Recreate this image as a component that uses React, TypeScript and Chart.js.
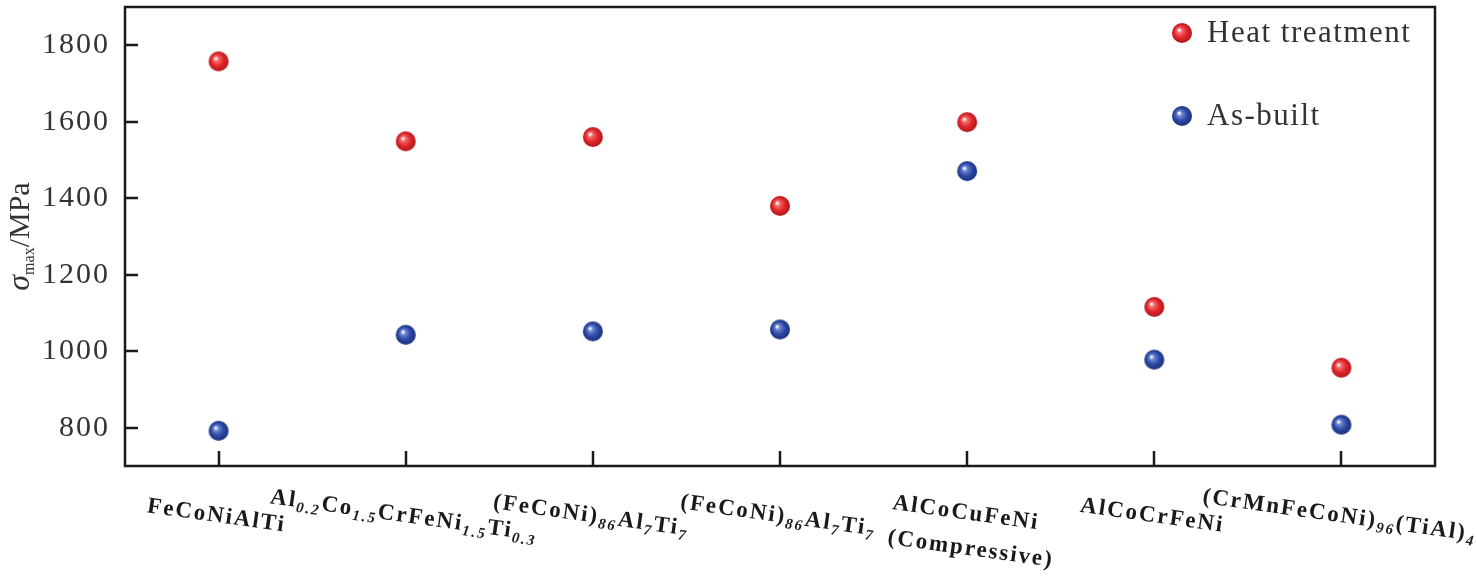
import React, { useEffect, useRef } from 'react';
import { Chart, registerables } from 'chart.js';

Chart.register(...registerables);

// alloys on the x axis (plain names + markup with _{subscripts})
const categories = [
    'FeCoNiAlTi',
    'Al0.2Co1.5CrFeNi1.5Ti0.3',
    '(FeCoNi)86Al7Ti7 a',
    '(FeCoNi)86Al7Ti7 b',
    'AlCoCuFeNi (Compressive)',
    'AlCoCrFeNi',
    '(CrMnFeCoNi)96(TiAl)4',
];
const categoryMarkup = [
    'FeCoNiAlTi',
    'Al_{0.2}Co_{1.5}CrFeNi_{1.5}Ti_{0.3}',
    '(FeCoNi)_{86}Al_{7}Ti_{7}',
    '(FeCoNi)_{86}Al_{7}Ti_{7}',
    'AlCoCuFeNi\n(Compressive)',
    'AlCoCrFeNi',
    '(CrMnFeCoNi)_{96}(TiAl)_{4}',
];

const heatTreatment = [1758, 1549, 1560, 1380, 1599, 1116, 957];
const asBuilt = [792, 1043, 1052, 1057, 1471, 978, 808];

const yTickValues = [800, 1000, 1200, 1400, 1600, 1800];
const Y_MIN = 700;
const Y_MAX = 1900;

const SERIF = '"Liberation Serif", "Times New Roman", serif';
const LABEL_ANGLE = (8 * Math.PI) / 180;
const AXIS_COLOR = '#1a1a1a';

function makeSphere(light: string, base: string, dark: string) {
    const c = document.createElement('canvas');
    c.width = 22;
    c.height = 22;
    const g = c.getContext('2d')!;
    const grad = g.createRadialGradient(8, 8, 0.5, 11, 11, 11);
    grad.addColorStop(0, '#ffffff');
    grad.addColorStop(0.2, light);
    grad.addColorStop(0.55, base);
    grad.addColorStop(1, dark);
    g.fillStyle = grad;
    g.beginPath();
    g.arc(11, 11, 10, 0, Math.PI * 2);
    g.fill();
    return c;
}

function parseMarkup(s: string) {
    const segs: { t: string; sub: boolean }[] = [];
    const re = /_\{([^}]*)\}/g;
    let last = 0;
    let m: RegExpExecArray | null;
    while ((m = re.exec(s))) {
        if (m.index > last) segs.push({ t: s.slice(last, m.index), sub: false });
        segs.push({ t: m[1], sub: true });
        last = re.lastIndex;
    }
    if (last < s.length) segs.push({ t: s.slice(last), sub: false });
    return segs;
}

const MAIN_FONT = `bold 23px ${SERIF}`;
const SUB_FONT = `italic bold 15px ${SERIF}`;

function drawCategoryLabel(ctx: CanvasRenderingContext2D, text: string, cx: number, cy: number) {
    const lines = text.split('\n').map(parseMarkup);
    ctx.save();
    ctx.translate(cx, cy);
    ctx.rotate(LABEL_ANGLE);
    ctx.letterSpacing = '2px';
    ctx.fillStyle = '#1a1a1a';
    ctx.textBaseline = 'middle';
    ctx.textAlign = 'left';
    const widths = lines.map((segs) =>
        segs.reduce((w, s) => {
            ctx.font = s.sub ? SUB_FONT : MAIN_FONT;
            return w + ctx.measureText(s.t).width;
        }, 0)
    );
    const blockW = Math.max(...widths);
    const gap = 35;
    const y0 = (-(lines.length - 1) * gap) / 2;
    lines.forEach((segs, i) => {
        let x = lines.length > 1 ? -blockW / 2 : -widths[i] / 2;
        const y = y0 + i * gap;
        segs.forEach((s) => {
            ctx.font = s.sub ? SUB_FONT : MAIN_FONT;
            ctx.fillText(s.t, x, s.sub ? y + 7 : y);
            x += ctx.measureText(s.t).width;
        });
    });
    ctx.restore();
}

export default function App() {
    const chartRef = useRef<HTMLCanvasElement>(null);
    const chartInstance = useRef<Chart | null>(null);

    useEffect(() => {
        if (!chartRef.current) return;
        if (chartInstance.current) chartInstance.current.destroy();

        const redBall = makeSphere('#f26a6a', '#e3262b', '#a3141a');
        const blueBall = makeSphere('#6a84d0', '#2d4aa6', '#182a72');

        const decor = {
            id: 'decor',
            beforeDraw(chart: any) {
                const { ctx, width, height } = chart;
                ctx.save();
                ctx.fillStyle = '#fff';
                ctx.fillRect(0, 0, width, height);
                ctx.restore();
                ctx.letterSpacing = '2px';
            },
            afterDraw(chart: any) {
                const { ctx, chartArea } = chart;
                const { left, top, right, bottom } = chartArea;
                const xs = chart.scales.x;
                const ys = chart.scales.y;
                ctx.letterSpacing = '0px';

                // frame + inward ticks
                ctx.save();
                ctx.strokeStyle = AXIS_COLOR;
                ctx.lineWidth = 2.5;
                ctx.strokeRect(left, top, right - left, bottom - top);
                ctx.beginPath();
                yTickValues.forEach((v) => {
                    const y = Math.round(ys.getPixelForValue(v));
                    ctx.moveTo(left, y);
                    ctx.lineTo(left + 13, y);
                });
                categories.forEach((_, i) => {
                    const x = Math.round(xs.getPixelForValue(i));
                    ctx.moveTo(x, bottom);
                    ctx.lineTo(x, bottom - 15);
                });
                ctx.stroke();
                ctx.restore();

                // category labels
                categoryMarkup.forEach((txt, i) => {
                    const cx = xs.getPixelForValue(i);
                    const multi = txt.includes('\n');
                    drawCategoryLabel(ctx, txt, cx + (multi ? 6 : -2), multi ? 532 : 516);
                });

                // y title
                ctx.save();
                ctx.fillStyle = '#333';
                ctx.textBaseline = 'alphabetic';
                ctx.textAlign = 'left';
                const parts = [
                    { t: 'σ', f: `italic 32px ${SERIF}`, dy: 0 },
                    { t: 'max', f: `16px ${SERIF}`, dy: 5 },
                    { t: '/MPa', f: `30px ${SERIF}`, dy: 0 },
                ];
                const total = parts.reduce((w, p) => {
                    ctx.font = p.f;
                    return w + ctx.measureText(p.t).width;
                }, 0);
                ctx.translate(29, (top + bottom) / 2 + total / 2);
                ctx.rotate(-Math.PI / 2);
                let px = 0;
                parts.forEach((p) => {
                    ctx.font = p.f;
                    ctx.fillText(p.t, px, p.dy);
                    px += ctx.measureText(p.t).width;
                });
                ctx.restore();

                // legend
                ctx.save();
                ctx.letterSpacing = '1.5px';
                ctx.font = `31px ${SERIF}`;
                ctx.fillStyle = '#333';
                ctx.textBaseline = 'middle';
                ctx.textAlign = 'left';
                const legendItems = [
                    { img: redBall, label: 'Heat treatment', y: 33 },
                    { img: blueBall, label: 'As-built', y: 116 },
                ];
                legendItems.forEach((it) => {
                    ctx.drawImage(it.img, 1182 - 11, it.y - 11);
                    ctx.fillText(it.label, 1207, it.y + 1);
                });
                ctx.restore();
            },
        };

        chartInstance.current = new Chart(chartRef.current, {
            type: 'line',
            data: {
                labels: categories,
                datasets: [
                    {
                        label: 'Heat treatment',
                        data: heatTreatment,
                        showLine: false,
                        pointStyle: redBall,
                        pointRadius: 10,
                        pointHoverRadius: 10,
                    },
                    {
                        label: 'As-built',
                        data: asBuilt,
                        showLine: false,
                        pointStyle: blueBall,
                        pointRadius: 10,
                        pointHoverRadius: 10,
                    },
                ],
            },
            options: {
                animation: false,
                responsive: true,
                maintainAspectRatio: false,
                layout: { autoPadding: false, padding: { left: 0, top: 7, right: 42, bottom: 0 } },
                plugins: {
                    legend: { display: false },
                    tooltip: { enabled: false },
                },
                scales: {
                    x: {
                        type: 'category',
                        offset: true,
                        grid: { display: false, drawTicks: false },
                        border: { display: false },
                        ticks: { display: false },
                        afterFit: (s: any) => {
                            s.height = 115;
                            s.paddingLeft = 0;
                            s.paddingRight = 0;
                        },
                    },
                    y: {
                        type: 'linear',
                        min: Y_MIN,
                        max: Y_MAX,
                        afterBuildTicks: (s: any) => { s.ticks = yTickValues.map((v) => ({ value: v })); },
                        grid: { display: false, drawTicks: false },
                        border: { display: false },
                        ticks: {
                            font: { family: SERIF, size: 30 },
                            color: '#333',
                            padding: 15,
                            callback: (v: any) => String(v),
                        },
                        afterFit: (s: any) => {
                            s.width = 125;
                            s.paddingTop = 0;
                            s.paddingBottom = 0;
                        },
                    },
                },
            } as any,
            plugins: [decor],
        });

        return () => {
            if (chartInstance.current) {
                chartInstance.current.destroy();
                chartInstance.current = null;
            }
        };
    }, []);

    return (
        <div style={{ position: 'absolute', left: 0, top: 0, width: 1477, height: 581, background: '#fff' }}>
            <canvas ref={chartRef}></canvas>
        </div>
    );
}
